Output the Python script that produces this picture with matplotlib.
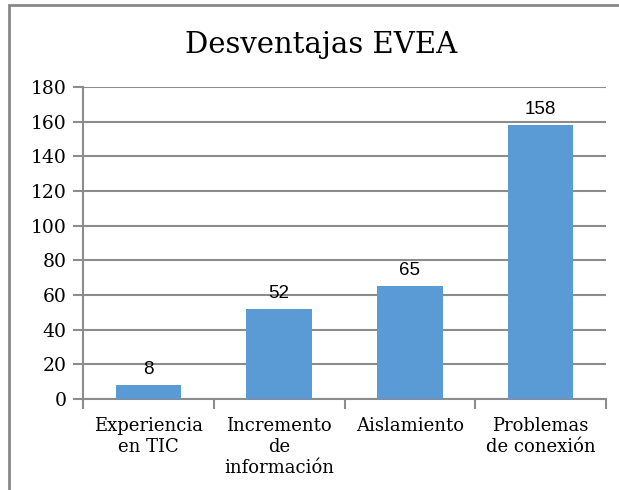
import matplotlib
matplotlib.use("Agg")
import matplotlib.pyplot as plt
from matplotlib.patches import Rectangle

categories = ["Experiencia\nen TIC", "Incremento\nde\ninformación", "Aislamiento", "Problemas\nde conexión"]
values = [8, 52, 65, 158]
yticks = [0, 20, 40, 60, 80, 100, 120, 140, 160, 180]

serif = "DejaVu Serif"
bar_color = "#5B9BD5"
grid_color = "#8C8C8C"

fig = plt.figure(figsize=(6.19, 4.90), dpi=100)
ax = fig.add_axes([83 / 619, 1 - 399 / 490, (606 - 83) / 619, (399 - 87) / 490])

x = list(range(len(values)))
bars = ax.bar(x, values, width=0.5, color=bar_color, zorder=3)
for xi, v in zip(x, values):
    ax.annotate(str(v), (xi, v), xytext=(0, 5), textcoords="offset points",
                ha="center", va="bottom", fontsize=13.5, family="Liberation Sans")

ax.set_xlim(-0.5, len(values) - 0.5)
ax.set_ylim(0, 180)
ax.set_yticks(yticks)
ax.set_yticklabels([str(t) for t in yticks], family=serif, fontsize=13.5)
ax.yaxis.grid(True, color=grid_color, linewidth=1.5, zorder=0)

# category labels between boundary ticks
ax.set_xticks([i + 0.5 for i in range(-1, len(values))])
ax.set_xticklabels([])
ax.set_xticks(x, minor=True)
ax.set_xticklabels(categories, minor=True, family=serif, fontsize=13, linespacing=1.2)
ax.tick_params(axis="x", which="minor", length=0, pad=13)
ax.tick_params(axis="x", which="major", length=7, width=1.5, color=grid_color, direction="out")
ax.tick_params(axis="y", length=7, width=1.5, color=grid_color, pad=5)

for side in ["top", "right"]:
    ax.spines[side].set_visible(False)
for side in ["left", "bottom"]:
    ax.spines[side].set_color(grid_color)
    ax.spines[side].set_linewidth(1.5)
ax.set_axisbelow(True)

fig.text(321 / 619, 1 - 45 / 490, "Desventajas EVEA", ha="center", va="center",
         family=serif, fontsize=21)

# outer chart border (cut off on right and bottom)
fig.patches.append(Rectangle((9 / 619, -0.1), 1.2, 1 - 5 / 490 + 0.1, transform=fig.transFigure,
                             fill=False, edgecolor="#878787", linewidth=2, clip_on=False))

fig.savefig("out.png", dpi=100)
